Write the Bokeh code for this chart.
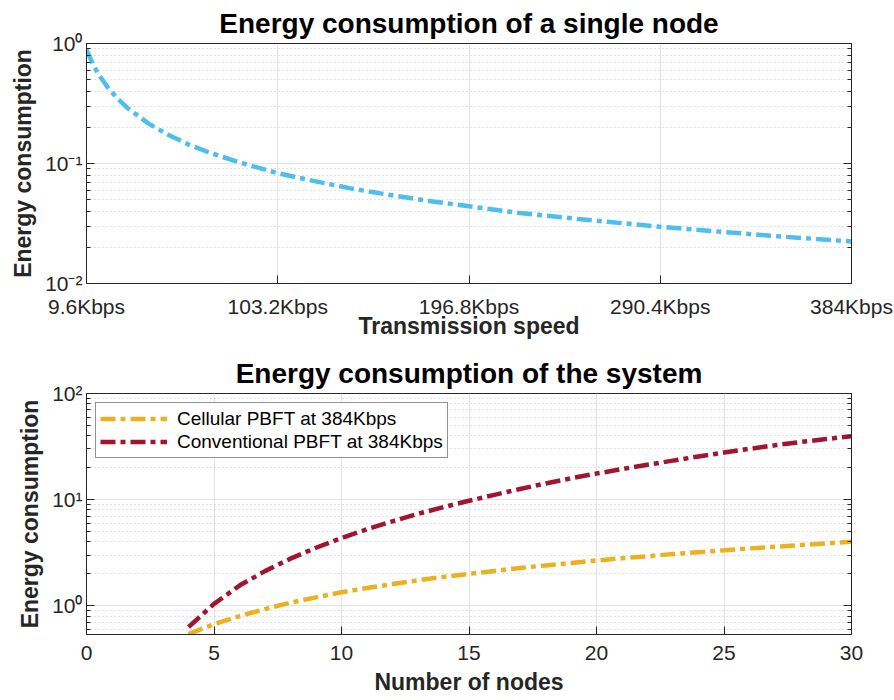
from bokeh.plotting import figure
from bokeh.layouts import column
from bokeh.models import FixedTicker, LogAxis, Range1d, Legend, LegendItem
from bokeh.embed import file_html
from bokeh.resources import INLINE

# Single node: energy vs. transmission speed (Kbps)
speed_kbps = [9.6, 12, 15, 20, 25, 30, 40, 50, 60, 70, 80, 90, 103.2, 120, 140,
              160, 180, 196.8, 220, 250, 290.4, 320, 350, 384]
node_energy = [0.89, 0.72, 0.57, 0.43, 0.345, 0.287, 0.215, 0.172, 0.143, 0.123,
               0.108, 0.096, 0.083, 0.072, 0.0615, 0.054, 0.048, 0.044, 0.039,
               0.0345, 0.0297, 0.027, 0.0246, 0.0224]
speed_ticks = [9.6, 103.2, 196.8, 290.4, 384]
speed_tick_labels = ["9.6Kbps", "103.2Kbps", "196.8Kbps", "290.4Kbps", "384Kbps"]

# Whole system: energy vs. number of nodes
nodes = list(range(4, 31))
cellular_energy = [0.54, 0.67, 0.80, 0.93, 1.07, 1.20, 1.34, 1.47, 1.60, 1.74,
                   1.87, 2.00, 2.13, 2.27, 2.40, 2.53, 2.67, 2.80, 2.93, 3.07,
                   3.20, 3.33, 3.47, 3.60, 3.73, 3.87, 4.00]
conventional_energy = [0.63, 1.04, 1.55, 2.12, 2.78, 3.52, 4.35, 5.25, 6.25, 7.35,
                       8.5, 9.75, 11.1, 12.6, 14.2, 15.9, 17.6, 19.4, 21.3, 23.3,
                       25.5, 27.8, 30.1, 32.5, 34.9, 37.2, 39.6]
node_ticks = [0, 5, 10, 15, 20, 25, 30]

top_decades = [0.01, 0.1, 1]
top_decade_labels = ["10\u207b\u00b2", "10\u207b\u00b9", "10\u2070"]
top_minor = [0.02, 0.03, 0.04, 0.05, 0.06, 0.07, 0.08, 0.09,
             0.2, 0.3, 0.4, 0.5, 0.6, 0.7, 0.8, 0.9]
bottom_decades = [1, 10, 100]
bottom_decade_labels = ["10\u2070", "10\u00b9", "10\u00b2"]
bottom_minor = [0.6, 0.7, 0.8, 0.9, 2, 3, 4, 5, 6, 7, 8, 9,
                20, 30, 40, 50, 60, 70, 80, 90]

FONT = "Liberation Sans"
INK = "#262626"
BLUE = "#4DBEEE"
YELLOW = "#EDB120"
RED = "#A2142F"
DASH = "15 5 5 5"


def style(p, title, x_label_standoff, x_title_standoff):
    p.title.text = title
    p.title.text_font = FONT
    p.title.text_font_size = "28px"
    p.title.text_font_style = "bold"
    p.title.text_color = "black"
    p.title.align = "center"
    p.outline_line_color = INK
    p.outline_line_width = 1
    p.background_fill_color = "white"
    p.border_fill_color = "white"
    for ax in p.axis:
        ax.axis_line_color = INK
        ax.major_tick_line_color = INK
        ax.major_tick_in = 8
        ax.major_tick_out = 0
        ax.minor_tick_in = 4
        ax.minor_tick_out = 0
        ax.major_label_text_font = FONT
        ax.major_label_text_font_size = "21px"
        ax.major_label_text_color = INK
        ax.axis_label_text_font = FONT
        ax.axis_label_text_font_size = "23px"
        ax.axis_label_text_font_style = "bold"
        ax.axis_label_text_color = INK
    p.xaxis.minor_tick_line_color = None
    p.xaxis.major_label_standoff = x_label_standoff
    p.xaxis.axis_label_standoff = x_title_standoff
    p.yaxis.major_label_standoff = 4
    p.yaxis.axis_label_standoff = 6
    p.yaxis.minor_tick_line_color = INK
    p.xgrid.grid_line_color = "#e3e3e3"
    p.ygrid.grid_line_color = "#e3e3e3"
    p.ygrid.minor_grid_line_color = "#c4c4c4"
    p.ygrid.minor_grid_line_dash = "1 3"


def add_right_ticks(p, y_ticker):
    # box-style tick marks on the right edge, no labels
    right = LogAxis(ticker=y_ticker)
    right.major_label_text_font_size = "1px"
    right.major_label_text_color = None
    right.major_label_standoff = 0
    right.axis_line_color = INK
    right.major_tick_line_color = INK
    right.minor_tick_line_color = INK
    right.major_tick_in = 8
    right.major_tick_out = 0
    right.minor_tick_in = 4
    right.minor_tick_out = 0
    p.add_layout(right, "right")


# ---- top panel ----
p1 = figure(width=894, height=350, y_axis_type="log",
            x_range=Range1d(9.6, 384), y_range=Range1d(0.01, 1),
            output_backend="svg", toolbar_location=None,
            min_border_left=86, min_border_right=43,
            min_border_top=40, min_border_bottom=67)
p1.line(speed_kbps, node_energy, line_color=BLUE, line_width=4.5,
        line_dash=DASH, line_cap="butt")
x1_ticker = FixedTicker(ticks=speed_ticks)
y1_ticker = FixedTicker(ticks=top_decades, minor_ticks=top_minor)
p1.xaxis.ticker = x1_ticker
p1.yaxis.ticker = y1_ticker
p1.xgrid.ticker = x1_ticker
p1.ygrid.ticker = y1_ticker
p1.xaxis.major_label_overrides = dict(zip(speed_ticks, speed_tick_labels))
p1.yaxis.major_label_overrides = dict(zip(top_decades, top_decade_labels))
p1.xaxis.axis_label = "Transmission speed"
p1.yaxis.axis_label = "Energy consumption"
style(p1, "Energy consumption of a single node", 11, -8)
add_right_ticks(p1, y1_ticker)

# ---- bottom panel ----
p2 = figure(width=894, height=350, y_axis_type="log",
            x_range=Range1d(0, 30), y_range=Range1d(0.536, 100),
            output_backend="svg", toolbar_location=None,
            min_border_left=86, min_border_right=43,
            min_border_top=41, min_border_bottom=66)
r_cell = p2.line(nodes, cellular_energy, line_color=YELLOW, line_width=4.5,
                 line_dash=DASH, line_cap="butt")
r_conv = p2.line(nodes, conventional_energy, line_color=RED, line_width=4.5,
                 line_dash=DASH, line_cap="butt")
x2_ticker = FixedTicker(ticks=node_ticks)
y2_ticker = FixedTicker(ticks=bottom_decades, minor_ticks=bottom_minor)
p2.xaxis.ticker = x2_ticker
p2.yaxis.ticker = y2_ticker
p2.xgrid.ticker = x2_ticker
p2.ygrid.ticker = y2_ticker
p2.yaxis.major_label_overrides = dict(zip(bottom_decades, bottom_decade_labels))
p2.xaxis.axis_label = "Number of nodes"
p2.yaxis.axis_label = "Energy consumption"
style(p2, "Energy consumption of the system", 11, 6)
add_right_ticks(p2, y2_ticker)

legend = Legend(items=[LegendItem(label="Cellular PBFT at 384Kbps", renderers=[r_cell]),
                       LegendItem(label="Conventional PBFT at 384Kbps", renderers=[r_conv])],
                location="top_left")
legend.margin = 9
legend.padding = 4
legend.spacing = 0
legend.glyph_width = 67
legend.glyph_height = 23
legend.label_height = 23
legend.label_standoff = 10
legend.label_text_font = FONT
legend.label_text_font_size = "19px"
legend.label_text_color = "black"
legend.border_line_color = INK
legend.border_line_width = 1
legend.background_fill_alpha = 1
p2.add_layout(legend, "center")

layout = column(p1, p2, spacing=0)
open("out.html", "w").write(file_html(layout, INLINE))
